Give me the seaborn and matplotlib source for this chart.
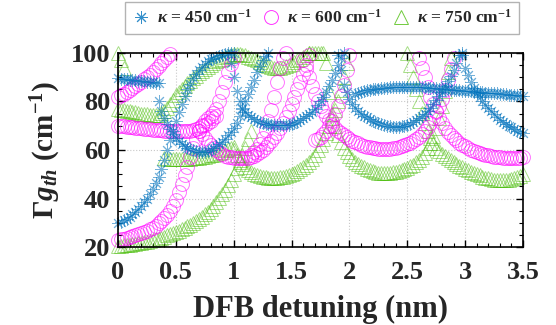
import numpy as np
import pandas as pd
import matplotlib
matplotlib.use("Agg")
import matplotlib.pyplot as plt
from matplotlib.ticker import MultipleLocator
from matplotlib.lines import Line2D
import seaborn as sns

# ---------------- data ----------------
STEP = 0.025  # detuning sampling of the listed values (nm)
kappas = [450, 600, 750]
colors = {450: "#0072BD", 600: "#FF00FF", 750: "#4DBE0E"}
legend_labels = [r"$\kappa$ = 450 cm$^{-1}$", r"$\kappa$ = 600 cm$^{-1}$", r"$\kappa$ = 750 cm$^{-1}$"]
x_ticks = [0, 0.5, 1, 1.5, 2, 2.5, 3, 3.5]
x_tick_labels = ["0", "0.5", "1", "1.5", "2", "2.5", "3", "3.5"]
y_ticks = [20, 40, 60, 80, 100]

# kappa = 450 branches: (start detuning, threshold gain values every STEP)
k450_b1 = (0.0, [30, 30.5, 31, 31.7, 32.5, 33.5, 34.5, 35.7, 37, 38.4, 40, 41.9, 44, 46.4, 49, 52.3, 56, 60, 64, 68,
                 72, 75.6, 79, 82.1, 85, 87.4, 89.5, 91.3, 93, 94.3, 95.5, 96.6, 97.5, 98, 98.5, 98.9, 99.3, 99.6,
                 99.8, 99.9, 100])
k450_b2 = (0.0, [89.5, 89.3, 89.2, 89.1, 89, 88.9, 88.8, 88.6, 88.5, 88.3, 88.2, 88.1, 88, 87.7, 87.5])
k450_b3 = (0.35, [80, 76.2, 73, 70.6, 68.5, 66.6, 65, 63.7, 62.5, 61.7, 61, 60.5, 60, 59.6, 59.3, 59.2, 59.3, 59.6,
                  60, 60.7, 61.5, 62.4, 63.5, 64.7, 66, 67.4, 69, 71.3, 74, 77, 80, 83, 86, 89, 92, 94.6, 97, 98.7,
                  100])
k450_b4 = (0.975, [96, 90, 84.5, 80, 77.5, 75.5, 74.4, 73.5, 72.7, 72, 71.6, 71.2, 70.9, 70.6, 70.4, 70.3, 70.2,
                   70.2, 70.2, 70.3, 70.5, 70.8, 71.2, 71.7, 72.3, 73, 73.9, 74.8, 75.8, 77, 78.4, 80, 81.9, 84,
                   86.4, 89, 91.9, 95, 98, 100])
k450_b5 = (1.9, [99, 93, 87, 83.8, 81, 79.1, 77.5, 76.2, 75, 74.2, 73.5, 72.7, 72, 71.5, 71, 70.6, 70.2, 69.9, 69.7,
                 69.6, 69.5, 69.6, 69.7, 70, 70.3, 70.8, 71.5, 72.2, 73, 74, 75, 76.2, 77.5, 79, 80.5, 82.2, 84,
                 86.2, 88.5, 90.7, 93, 96, 99, 100])
k450_b6 = (2.975, [99, 94, 91, 88, 85.6, 83.5, 81.7, 80, 78.7, 77.5, 76.2, 75, 73.7, 72.5, 71.6, 70.7, 70, 69.3,
                   68.6, 68, 67.5, 67])
k450_b7 = (2.05, [83, 83.6, 84, 84.3, 84.6, 84.8, 85, 85.15, 85.3, 85.45, 85.6, 85.7, 85.8, 85.85, 85.9, 85.95, 86,
                  86, 86, 86, 86, 85.95, 85.9, 85.85, 85.8, 85.7, 85.6, 85.5, 85.4, 85.3, 85.2, 85.1, 85, 84.9, 84.8,
                  84.7, 84.6, 84.5, 84.4, 84.3, 84.2, 84.1, 84, 83.9, 83.8, 83.7, 83.6, 83.5, 83.4, 83.3, 83.2,
                  83.1, 83, 82.85, 82.7, 82.6, 82.5, 82.35, 82.2])

# kappa = 600 branches
k600_b1 = (0.0, [23, 23.1, 23.3, 23.6, 24, 24.4, 24.8, 25.2, 25.7, 26.2, 26.7, 27.3, 28, 28.8, 29.7, 30.7, 31.8,
                 33.3, 35, 37.1, 39.5, 42.6, 46, 49.5, 53, 57, 61, 64.7, 68, 70.3, 72, 73.1, 74, 75.3, 77, 80, 84,
                 88, 92, 95.3, 98])
k600_b2 = (0.0, [70, 69.9, 69.8, 69.6, 69.5, 69.3, 69.2, 69.1, 69, 68.8, 68.7, 68.5, 68.4, 68.3, 68.2, 68.1, 68,
                 67.9, 67.8, 67.7, 67.7, 67.7, 67.7, 67.7, 67.8, 68, 68.2, 68.5, 69, 69.7, 70.5, 71.2, 72, 73, 74])
k600_b3 = (0.7, [68, 66.5, 65, 63.4, 62, 60.8, 59.8, 59, 58.2, 57.7, 57.3, 57, 56.8, 56.7, 56.6, 56.6, 56.7, 56.9,
                 57.2, 57.6, 58.2, 59, 60, 61.2, 62.5, 63.9, 65.5, 67.2, 69, 71.2, 73.5, 76.2, 79, 82, 85, 88.2,
                 91.5, 95.2, 99])
k600_b4 = (0.0, [82, 82.6, 83.2, 84, 84.8, 85.6, 86.5, 87.3, 88.2, 89.1, 90, 91.1, 92.2, 93.3, 94.5, 95.7, 97,
                 98.3, 99.5])
k600_b5 = (1.6, [97, 93.5, 90, 86.3, 83, 80.3, 78, 75.9, 74, 72.2, 70.5, 69.2, 68, 67, 66, 65.2, 64.5, 63.8, 63.2,
                 62.7, 62.2, 61.8, 61.4, 61.1, 60.9, 60.7, 60.6, 60.5, 60.5, 60.5, 60.6, 60.7, 60.9, 61.2, 61.5,
                 61.9, 62.4, 63, 63.6, 64.5, 65.5, 66.7, 68, 69.4, 71, 73.1, 75.5, 78.1, 81, 84.8, 89, 93.5, 98])
k600_b6 = (2.6, [98, 94, 90, 86, 82, 78.8, 76, 73.4, 71, 69.2, 67.5, 66.2, 65, 64, 63, 62.2, 61.5, 60.8, 60.2,
                 59.7, 59.2, 58.8, 58.4, 58.1, 57.8, 57.5, 57.3, 57.1, 57, 56.9, 56.8, 56.7, 56.7, 56.7, 56.8, 56.9,
                 57])
k600_b7 = (1.15, [58, 59, 60.5, 62.5, 65, 68.2, 72, 76.7, 82, 88, 94, 98, 100])
k600_b8 = (1.7, [64, 64.6, 65.5, 66.6, 68, 69.8, 72, 74.8, 78, 82.2, 87, 92.8, 99])

# kappa = 750 branches
k750_b1 = (0.0, [20.5, 20.6, 20.7, 20.85, 21, 21.15, 21.3, 21.5, 21.7, 21.95, 22.2, 22.5, 22.8, 23.15, 23.5, 23.9,
                 24.3, 24.75, 25.2, 25.7, 26.2, 26.75, 27.3, 27.9, 28.5, 29.2, 30, 30.8, 31.6, 32.5, 33.5, 34.6,
                 35.8, 37.1, 38.5, 40.1, 41.8, 43.6, 45.5, 47.7, 50, 52.4, 55, 57.9, 61, 64.4, 68])
k750_b2 = (0.4, [56.5, 56.4, 56.3, 56.25, 56.2, 56.2, 56.2, 56.25, 56.3, 56.4, 56.5, 56.65, 56.8, 57, 57.2, 57.5,
                 57.8, 58.1, 58.5, 58.9, 59.3, 59.8, 60.3, 60.8, 61.3])
k750_b3 = (0.0, [77, 76.7, 76.5, 76.2, 76, 75.7, 75.5, 75.2, 75, 74.8, 74.7, 74.6, 74.5, 74.5, 74.6, 75.1, 76, 77.4,
                 79, 80.8, 82.5, 83.8, 85, 86.3, 87.5, 88.6, 89.7, 90.7, 91.7, 92.6, 93.5, 94.3, 95, 95.8, 96.5,
                 97.1, 97.7, 98.2, 98.7, 99.1, 99.5, 99.6, 99.5, 99.3, 99, 98.5, 98, 97.5, 97, 96.2, 95.5, 95,
                 94.5, 94.2, 94, 94, 94, 94.2, 94.5, 95, 95.5, 96.2, 97, 97.7, 98.5, 99.3, 100])
k750_b4 = (1.65, [100, 100, 100, 100, 100, 100, 96, 84, 75, 70, 66, 63.3, 61, 59.1, 57.5, 56.3, 55.2, 54.3, 53.5,
                  52.8, 52.2, 51.7, 51.3, 51, 50.7, 50.6, 50.5, 50.5, 50.6, 50.8, 51, 51.3, 51.7, 52.2, 52.7, 53.3,
                  54, 54.9, 56, 57.3, 58.8, 60.7, 63, 65.8, 69, 73.2, 78, 84.5, 92, 98])
k750_b5 = (2.5, [100, 95, 90, 85, 80, 75.2, 71, 67.8, 65, 62.8, 61, 59.7, 58.5, 57.6, 56.8, 55.9, 55, 54.2, 53.5,
                 52.8, 52.2, 51.6, 51, 50.5, 50, 49.5, 49, 48.6, 48.3, 48, 47.8, 47.7, 47.6, 47.6, 47.6, 47.8, 48,
                 48.4, 48.8, 49.4, 50])
k750_b6 = (1.0, [60, 57.8, 56, 54.4, 53, 51.9, 51, 50.3, 49.8, 49.4, 49, 48.8, 48.6, 48.5, 48.5, 48.6, 48.7, 48.9,
                 49.2, 49.6, 50, 50.6, 51.2, 52, 52.8, 53.8, 55, 56.4, 58, 59.9, 62, 64.4, 67, 69.9, 73, 76.3, 80,
                 84.7, 90, 96])
k750_b7 = (0.0, [100, 97, 94])

branches = {
    450: [k450_b1, k450_b2, k450_b3, k450_b4, k450_b5, k450_b6, k450_b7],
    600: [k600_b1, k600_b2, k600_b3, k600_b4, k600_b5, k600_b6, k600_b7, k600_b8],
    750: [k750_b1, k750_b2, k750_b3, k750_b4, k750_b5, k750_b6, k750_b7],
}

rows = []
for k, blist in branches.items():
    for bi, (x0, ys) in enumerate(blist):
        for i, y in enumerate(ys):
            rows.append({"kappa": k, "branch": f"{k}-{bi}", "x": round(x0 + STEP * i, 4), "y": y})
df = pd.DataFrame(rows)

# ---------------- styling ----------------
sns.set_theme(style="ticks")
plt.rcParams["font.family"] = ["Liberation Serif", "DejaVu Serif"]
plt.rcParams["font.weight"] = "bold"
plt.rcParams["mathtext.fontset"] = "custom"
plt.rcParams["mathtext.rm"] = "Liberation Serif:bold"
plt.rcParams["mathtext.it"] = "Liberation Serif:italic:bold"
plt.rcParams["mathtext.bf"] = "Liberation Serif:bold"

fig = plt.figure(figsize=(5.56, 3.25), dpi=100)
ax = fig.add_axes([118 / 556, 78 / 325, 405 / 556, 194 / 325])

marker_style = {
    450: dict(marker=(8, 2, 0), markersize=9, markeredgewidth=0.7),
    600: dict(marker="o", markersize=10, markeredgewidth=0.7, markerfacecolor="none"),
    750: dict(marker="^", markersize=10.5, markeredgewidth=0.7, markerfacecolor="none"),
}
alphas = {450: 0.55, 600: 0.55, 750: 0.5}

for k in [750, 600, 450]:
    sub = df[df["kappa"] == k]
    sns.lineplot(data=sub, x="x", y="y", units="branch", estimator=None, sort=False,
                 color=colors[k], linestyle="", markeredgecolor=colors[k],
                 alpha=alphas[k], legend=False, ax=ax, **marker_style[k])

for ln in ax.lines:
    ln.set_clip_on(False)

ax.set_xlim(0, 3.5)
ax.set_ylim(20, 100)
ax.set_xticks(x_ticks)
ax.set_xticklabels(x_tick_labels)
ax.set_yticks(y_ticks)
ax.xaxis.set_minor_locator(MultipleLocator(0.1))
ax.yaxis.set_minor_locator(MultipleLocator(5))
ax.tick_params(which="both", direction="in", top=True, right=True, color="black")
ax.tick_params(which="major", length=5, width=1, labelsize=19)
ax.tick_params(axis="x", which="major", pad=10)
ax.tick_params(axis="y", which="major", pad=5.5)
ax.tick_params(which="minor", length=3, width=0.8)
ax.grid(True, which="major", linestyle=":", color="#c8c8c8", linewidth=0.8)
for s in ax.spines.values():
    s.set_color("black")
    s.set_linewidth(1.2)
for lab in ax.get_xticklabels() + ax.get_yticklabels():
    lab.set_fontweight("bold")

ax.set_xlabel("DFB detuning (nm)", fontsize=22, fontweight="bold", labelpad=8)
ax.set_ylabel(r"$\mathit{Γg_{th}}$ (cm$^{-1}$)", fontsize=21, fontweight="bold", labelpad=6)

handles = [Line2D([], [], linestyle="", color=colors[k], markeredgecolor=colors[k], alpha=0.8, **marker_style[k])
           for k in kappas]
leg = fig.legend(handles, legend_labels, loc="upper left", bbox_to_anchor=(125 / 556, 1 - 2 / 325),
                 ncol=3, frameon=True, fancybox=False, edgecolor="#a0a0a0", fontsize=12.5,
                 handletextpad=0.42, columnspacing=0.59, borderpad=0.42, handlelength=1.0,
                 borderaxespad=0.0)
leg.get_frame().set_linewidth(1.0)

fig.savefig("out.png", dpi=100)
